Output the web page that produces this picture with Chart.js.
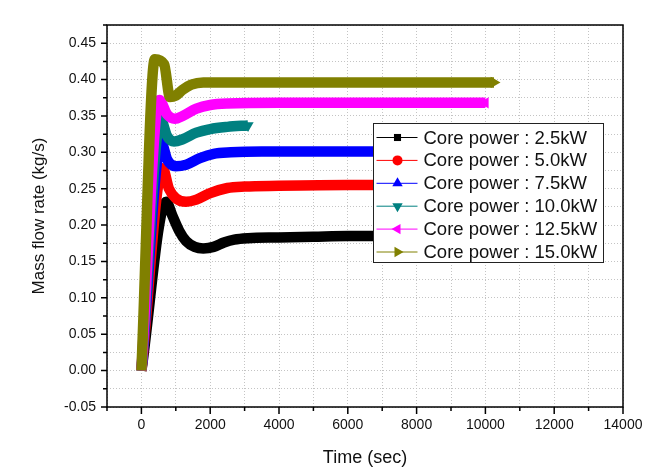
<!DOCTYPE html>
<html>
<head>
<meta charset="utf-8">
<script src="https://cdn.jsdelivr.net/npm/chart.js@4.4.0/dist/chart.umd.min.js"></script>
<style>
html,body{margin:0;padding:0;background:#ffffff;}
#wrap{width:656px;height:475px;position:relative;}
</style>
</head>
<body>
<div id="wrap"><canvas id="c" width="656" height="475"></canvas></div>
<script>
// ---- data (time in sec, mass flow rate in kg/s) ----
const seriesNames = ['Core power : 2.5kW','Core power : 5.0kW','Core power : 7.5kW','Core power : 10.0kW','Core power : 12.5kW','Core power : 15.0kW'];
const seriesColors = ['#000000','#ff0000','#0000ff','#008080','#ff00ff','#808000'];
const markerStyles = ['rect','circle','triangle','triangle','triangle','triangle'];
const markerRotations = [0,0,0,180,-90,90];

const t25 = [0,720,900,1100,1300,1550,1800,2100,2400,2700,3100,4000,5000,6000,8000,10000];
const v25 = [0,0.232,0.213,0.192,0.178,0.170,0.168,0.170,0.176,0.180,0.182,0.183,0.184,0.185,0.185,0.185];

const t50 = [0,620,800,1000,1300,1600,2000,2500,3000,4000,6000,8000,10000];
const v50 = [0,0.278,0.250,0.237,0.232,0.235,0.244,0.251,0.253,0.254,0.255,0.255,0.255];

const t75 = [0,580,750,1000,1300,1700,2100,2600,3500,6000,10000];
const v75 = [0,0.313,0.290,0.281,0.283,0.292,0.298,0.300,0.301,0.301,0.301];

const t100 = [0,560,750,950,1200,1600,2000,2500,3100];
const v100 = [0,0.345,0.322,0.315,0.318,0.327,0.332,0.335,0.337];

const t125 = [0,520,750,970,1200,1600,2000,2500,4000,10000];
const v125 = [0,0.372,0.352,0.346,0.350,0.360,0.365,0.367,0.368,0.368];

const t150 = [0,390,660,830,1000,1200,1450,1800,3000,10250];
const v150 = [0,0.428,0.421,0.376,0.378,0.386,0.393,0.396,0.396,0.396];

const seriesT = [t25,t50,t75,t100,t125,t150];
const seriesV = [v25,v50,v75,v100,v125,v150];

// axis settings
const xMin = -1000, xMax = 14000, xStep = 1000, xLabelStep = 2000;
const yMin = -0.05, yMax = 0.475, yStep = 0.025, yLabelStep = 0.05;
const xTitle = 'Time (sec)';
const yTitle = 'Mass flow rate (kg/s)';

const FONT = "'Liberation Sans', Arial, Helvetica, sans-serif";

function isMultiple(v, step){ const r = v/step; return Math.abs(r - Math.round(r)) < 1e-6; }

const datasets = seriesT.map((ts, i) => {
  const pts = ts.map((t, j) => ({x: t, y: seriesV[i][j]}));
  const radii = pts.map((p, j) => j === pts.length - 1 ? 6.5 : 0);
  return {
    label: seriesNames[i],
    data: pts,
    borderColor: seriesColors[i],
    backgroundColor: seriesColors[i],
    borderWidth: 10.5,
    borderCapStyle: 'butt',
    borderJoinStyle: 'round',
    cubicInterpolationMode: 'monotone',
    pointRadius: radii,
    pointHoverRadius: radii,
    pointStyle: markerStyles[i],
    rotation: markerRotations[i],
    pointBorderWidth: 0,
    pointBackgroundColor: seriesColors[i],
    order: seriesT.length - i,
    fill: false
  };
});

// tick marks + frame
const framePlugin = {
  id: 'frameTicks',
  afterDraw(chart){
    const {ctx, chartArea: a, scales: {x, y}} = chart;
    ctx.save();
    ctx.strokeStyle = '#000';
    ctx.lineWidth = 1.5;
    ctx.beginPath();
    x.ticks.forEach(tk => {
      const px = x.getPixelForValue(tk.value);
      const len = isMultiple(tk.value, xLabelStep) ? 7 : 4;
      ctx.moveTo(px, a.bottom); ctx.lineTo(px, a.bottom + len);
    });
    y.ticks.forEach(tk => {
      const py = y.getPixelForValue(tk.value);
      const len = isMultiple(tk.value, yLabelStep) ? 6 : 4;
      ctx.moveTo(a.left, py); ctx.lineTo(a.left - len, py);
    });
    ctx.stroke();
    ctx.strokeRect(a.left, a.top, a.right - a.left, a.bottom - a.top);
    ctx.restore();
  }
};

// boxed legend inside plot
const legendPlugin = {
  id: 'boxLegend',
  afterDatasetsDraw(chart){
    const {ctx, chartArea: a} = chart;
    const W = a.right - a.left, H = a.bottom - a.top;
    const x0 = Math.round(a.left + W * 0.5155) + 0.5;
    const y0 = Math.round(a.top + H * 0.256) + 0.5;
    const w = 230, h = 139;
    ctx.save();
    ctx.fillStyle = '#ffffff';
    ctx.fillRect(x0, y0, w, h);
    ctx.strokeStyle = '#222';
    ctx.lineWidth = 1;
    ctx.strokeRect(x0, y0, w, h);
    ctx.font = '18.5px ' + FONT;
    ctx.textBaseline = 'middle';
    ctx.textAlign = 'left';
    seriesNames.forEach((name, i) => {
      const yy = y0 + 14 + i * 22.9;
      ctx.strokeStyle = seriesColors[i];
      ctx.lineWidth = 1;
      ctx.beginPath();
      ctx.moveTo(x0 + 3, yy); ctx.lineTo(x0 + 44, yy);
      ctx.stroke();
      ctx.fillStyle = seriesColors[i];
      const r = markerStyles[i] === 'triangle' ? 6 : 5;
      Chart.helpers.drawPoint(ctx, {pointStyle: markerStyles[i], rotation: markerRotations[i], radius: r, borderWidth: 0}, x0 + 24, yy);
      ctx.fillStyle = '#111';
      ctx.fillText(name, x0 + 50, yy + 1);
    });
    ctx.restore();
  }
};

new Chart(document.getElementById('c').getContext('2d'), {
  type: 'line',
  data: { datasets },
  options: {
    responsive: false,
    animation: false,
    events: [],
    layout: { padding: { left: 0, right: 33, top: 25, bottom: 0 } },
    plugins: { legend: { display: false }, tooltip: { enabled: false } },
    scales: {
      x: {
        type: 'linear', min: xMin, max: xMax,
        afterFit(s){ s.height = 68; },
        ticks: {
          stepSize: xStep, autoSkip: false, maxRotation: 0, padding: 10, color: '#111',
          font: { family: FONT, size: 14 },
          callback: v => isMultiple(v, xLabelStep) ? String(Math.round(v)) : ''
        },
        grid: { color: '#c4c4c4', lineWidth: 1, drawTicks: false },
        border: { display: false, dash: [1, 2] },
        title: { display: true, text: xTitle, color: '#111', font: { family: FONT, size: 18 }, padding: { top: 0, bottom: 6 } }
      },
      y: {
        type: 'linear', min: yMin, max: yMax,
        afterFit(s){ s.width = 107; },
        ticks: {
          stepSize: yStep, autoSkip: false, padding: 11, color: '#111',
          font: { family: FONT, size: 14 },
          callback: v => isMultiple(v, yLabelStep) ? (Math.abs(v) < 1e-9 ? '0.00' : v.toFixed(2)) : ''
        },
        grid: { color: '#c4c4c4', lineWidth: 1, drawTicks: false },
        border: { display: false, dash: [1, 2] },
        title: { display: true, text: yTitle, color: '#111', font: { family: FONT, size: 17 }, padding: { top: 29, bottom: 0 } }
      }
    }
  },
  plugins: [framePlugin, legendPlugin]
});
</script>
</body>
</html>
